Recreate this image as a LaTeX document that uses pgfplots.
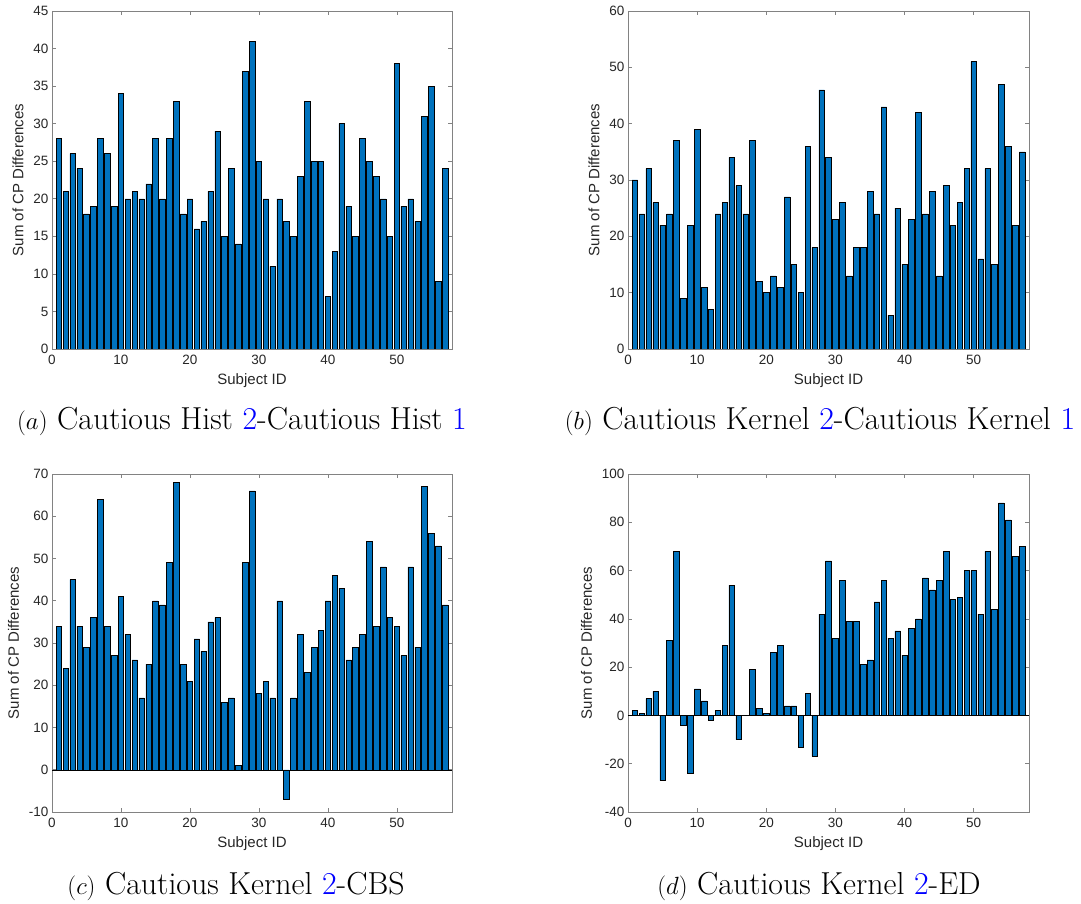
\documentclass[border=0pt]{standalone}
\usepackage{fontspec}
\usepackage{pgfplots}
\usepackage{pgfplotstable}
\pgfplotsset{compat=1.18}
\newfontfamily\arial{Liberation Sans}
\definecolor{mblue}{RGB}{0,114,189}
\definecolor{axgray}{RGB}{130,130,130}
\definecolor{txtgray}{RGB}{38,38,38}
\definecolor{lnkblue}{RGB}{0,0,255}

% one column of values per panel, subject id = row number
\pgfplotstableread{
v
28
21
26
24
18
19
28
26
19
34
20
21
20
22
28
20
28
33
18
20
16
17
21
29
15
24
14
37
41
25
20
11
20
17
15
23
33
25
25
7
13
30
19
15
28
25
23
20
15
38
19
20
17
31
35
9
24
}\histdata
\pgfplotstableread{
v
30
24
32
26
22
24
37
9
22
39
11
7
24
26
34
29
24
37
12
10
13
11
27
15
10
36
18
46
34
23
26
13
18
18
28
24
43
6
25
15
23
42
24
28
13
29
22
26
32
51
16
32
15
47
36
22
35
}\kerneldata
\pgfplotstableread{
v
34
24
45
34
29
36
64
34
27
41
32
26
17
25
40
39
49
68
25
21
31
28
35
36
16
17
1
49
66
18
21
17
40
-7
17
32
23
29
33
40
46
43
26
29
32
54
34
48
36
34
27
48
29
67
56
53
39
}\cbsdata
\pgfplotstableread{
v
2
1
7
10
-27
31
68
-4
-24
11
6
-2
2
29
54
-10
0
19
3
1
26
29
4
4
-13
9
-17
42
64
32
56
39
39
21
23
47
56
32
35
25
36
40
57
52
56
68
48
49
60
60
42
68
44
88
81
66
70
}\eddata

\pgfplotsset{
  cpbar/.style={
    scale only axis, width=400pt, height=338pt,
    anchor=south west,
    xmin=0, xmax=58, xtick={0,10,...,50},
    axis line style={axgray, line width=0.6pt},
    tick style={axgray, line width=0.6pt},
    major tick length=4pt,
    /pgf/number format/assume math mode=true,
    tick label style={font=\arial\fontsize{13.5}{13.5}\selectfont, text=txtgray},
    xticklabel style={yshift=-2.5pt},
    label style={font=\arial\fontsize{15}{15}\selectfont, text=txtgray},
    xlabel={Subject ID}, ylabel={Sum of CP Differences},
    xlabel style={yshift=-2pt},
    ylabel style={yshift=3pt},
  },
  cpplot/.style={ybar, bar width=0.8, fill=mblue, draw=black, line width=0.5pt},
}

\begin{document}
\begin{tikzpicture}[x=1pt,y=1pt]
\path[use as bounding box] (0,0) rectangle (1081,903);

\begin{axis}[cpbar, at={(52pt,554pt)}, ymin=0, ymax=45, ytick={0,5,...,45}]
\addplot[cpplot] table[x expr=\coordindex+1, y=v] {\histdata};
\end{axis}

\begin{axis}[cpbar, width=401pt, at={(628pt,554pt)}, ymin=0, ymax=60, ytick={0,10,...,60}]
\addplot[cpplot] table[x expr=\coordindex+1, y=v] {\kerneldata};
\end{axis}

\begin{axis}[cpbar, at={(52pt,91pt)}, ymin=-10, ymax=70, ytick={-10,0,...,70}]
\addplot[black, line width=0.5pt] coordinates {(0,0) (58,0)};
\addplot[cpplot] table[x expr=\coordindex+1, y=v] {\cbsdata};
\end{axis}

\begin{axis}[cpbar, width=401pt, at={(628pt,91pt)}, ymin=-40, ymax=100, ytick={-40,-20,...,100}]
\addplot[black, line width=0.5pt] coordinates {(0,0) (58,0)};
\addplot[cpplot] table[x expr=\coordindex+1, y=v] {\eddata};
\end{axis}

\begin{scope}[every node/.style={font=\fontsize{31.8}{34}\selectfont, inner sep=0pt}]
\node at (242,482) {$(a)$ Cautious Hist \textcolor{lnkblue}{2}-Cautious Hist \textcolor{lnkblue}{1}};
\node at (820,482) {$(b)$ Cautious Kernel \textcolor{lnkblue}{2}-Cautious Kernel \textcolor{lnkblue}{1}};
\node at (236,17) {$(c)$ Cautious Kernel \textcolor{lnkblue}{2}-CBS};
\node at (819,17) {$(d)$ Cautious Kernel \textcolor{lnkblue}{2}-ED};
\end{scope}
\end{tikzpicture}
\end{document}
